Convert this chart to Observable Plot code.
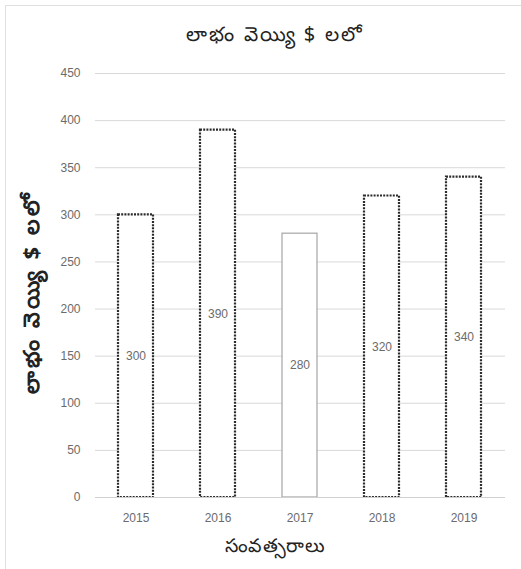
<!DOCTYPE html>
<html>
<head>
<meta charset="utf-8">
<script src="https://cdn.jsdelivr.net/npm/d3@7"></script>
<script src="https://cdn.jsdelivr.net/npm/@observablehq/plot@0.6"></script>
<style>
  html, body { margin: 0; padding: 0; background: #fff; }
  #wrap { position: relative; width: 521px; height: 569px; overflow: hidden; font-family: "Noto Sans", "DejaVu Sans", sans-serif; }
  #frame { position: absolute; left: 5px; top: 5px; width: 530px; height: 580px; border: 1.5px solid #e0e0e0; box-sizing: border-box; }
  #title { position: absolute; left: 0; width: 550px; top: 20px; text-align: center; font-size: 20px; letter-spacing: 2px; color: #222; }
  #ytitle { position: absolute; left: 32px; top: 292px; transform: translate(-50%, -50%) rotate(-90deg); white-space: nowrap; font-size: 22px; letter-spacing: 3px; font-weight: bold; color: #222; }
  #xtitle { position: absolute; left: 0; width: 550px; top: 532px; text-align: center; font-size: 19px; letter-spacing: 0.5px; color: #222; }
  #chart { position: absolute; left: 0; top: 0; }
</style>
</head>
<body>
<div id="wrap">
  <div id="frame"></div>
  <div id="chart"></div>
  <div id="title"></div>
  <div id="ytitle"></div>
  <div id="xtitle"></div>
</div>
<script>
const titleText = "లాభం వెయ్యి $ లలో";
const yTitle = "లాభం వెయ్యి $ లలో";
const xTitle = "సంవత్సరాలు";
const years = ["2015", "2016", "2017", "2018", "2019"];
const profits = [300, 390, 280, 320, 340];
const dotted = [true, true, false, true, true];
const yTicks = [0, 50, 100, 150, 200, 250, 300, 350, 400, 450];

const data = years.map((y, i) => ({year: y, value: profits[i], dotted: dotted[i]}));

document.getElementById("title").textContent = titleText;
document.getElementById("ytitle").textContent = yTitle;
document.getElementById("xtitle").textContent = xTitle;

const font = "'Liberation Sans', Arial, sans-serif";

const chart = Plot.plot({
  width: 521,
  height: 569,
  marginTop: 73,
  marginBottom: 72,
  marginLeft: 95,
  marginRight: 16,
  style: {fontFamily: font, fontSize: "12px", color: "#6b6b6b", background: "transparent"},
  x: {domain: years, paddingInner: 0.57, paddingOuter: 0.285, label: null},
  y: {domain: [0, 450], label: null},
  marks: [
    Plot.gridY(yTicks, {stroke: "#d9d9d9", strokeOpacity: 1, strokeWidth: 1}),
    Plot.axisY(yTicks, {tickSize: 0, tickPadding: 15, fill: "#6b6b6b", label: null, fontSize: 12}),
    Plot.axisX({tickSize: 0, tickPadding: 16, fill: "#6b6b6b", label: null, fontSize: 12}),
    Plot.barY(data.filter(d => d.dotted), {x: "year", y: "value", fill: "white", stroke: "#2b2b2b", strokeWidth: 2.2, strokeDasharray: "2,1.2"}),
    Plot.barY(data.filter(d => !d.dotted), {x: "year", y: "value", fill: "white", stroke: "#a6a6a6", strokeWidth: 1.2}),
    Plot.ruleY([0], {stroke: "#d0d0d0", strokeWidth: 1}),
    Plot.text(data, {x: "year", y: d => d.value / 2, text: d => String(d.value), fill: "#6b6b6b", fontSize: 12})
  ]
});
document.getElementById("chart").appendChild(chart);
</script>
</body>
</html>
